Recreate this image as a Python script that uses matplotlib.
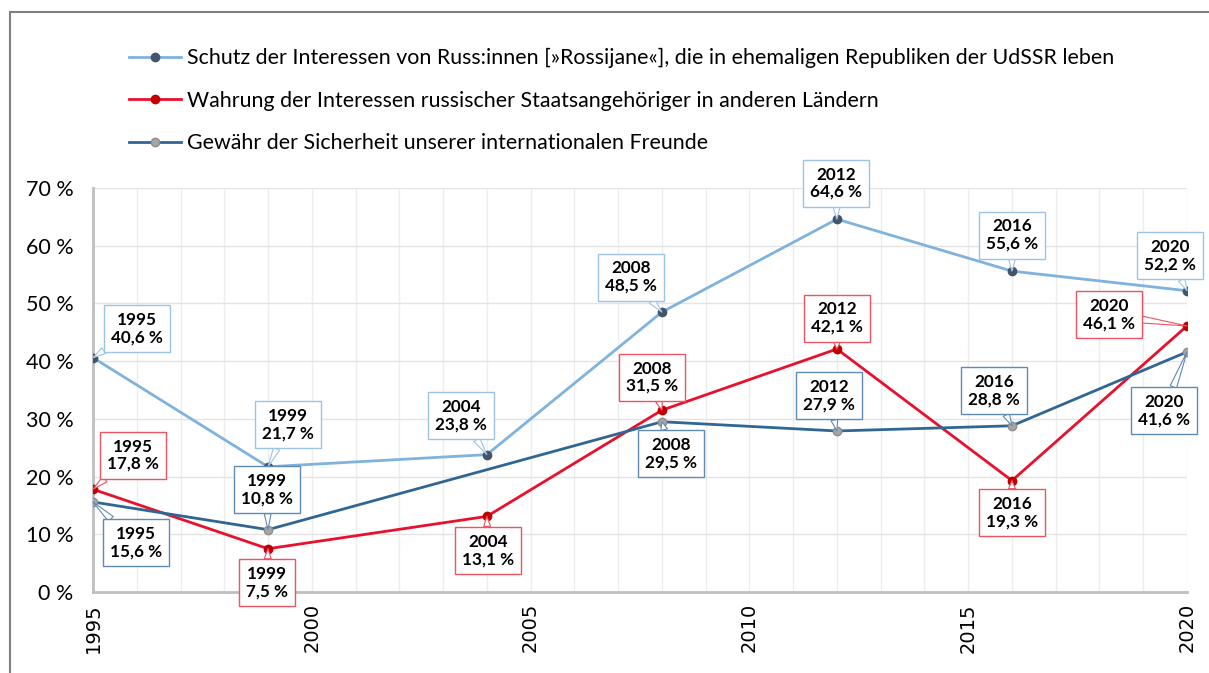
import numpy as np
import matplotlib
matplotlib.use("Agg")
import matplotlib.pyplot as plt
from matplotlib.patches import Rectangle

years = [1995, 1999, 2004, 2008, 2012, 2016, 2020]
schutz = [40.6, 21.7, 23.8, 48.5, 64.6, 55.6, 52.2]
wahrung = [17.8, 7.5, 13.1, 31.5, 42.1, 19.3, 46.1]
gewaehr = [15.6, 10.8, np.nan, 29.5, 27.9, 28.8, 41.6]

labels = [
    "Schutz der Interessen von Russ:innen [»Rossijane«], die in ehemaligen Republiken der UdSSR leben",
    "Wahrung der Interessen russischer Staatsangehöriger in anderen Ländern",
    "Gewähr der Sicherheit unserer internationalen Freunde",
]

xticks = [1995, 2000, 2005, 2010, 2015, 2020]
yticks = [0, 10, 20, 30, 40, 50, 60, 70]

# label box offsets in pixels (dx right, dy down) relative to point
off_s = [(44, -29), (20, -42), (-26, -39), (-31, -35), (-1, -36), (0, -36), (-17, -35)]
off_w = [(40, -34), (-1, 34), (1, 34), (-10, -33), (0, -31), (0, 32), (-78, -11)]
off_g = [(43, 41), (-1, -40), None, (9, 32), (-8, -35), (-18, -35), (-23, 59)]

plt.rcParams['font.family'] = ['Lato', 'DejaVu Sans']

W, H = 1209, 673
fig = plt.figure(figsize=(W / 100, H / 100), dpi=100)
ax = fig.add_axes([93 / W, 1 - 592 / H, (1187 - 93) / W, (592 - 188) / H])

series = [
    (schutz, '#7FB2DD', '#44546A', '#44546A', '#9DC3E6', off_s),
    (wahrung, '#E8112D', '#C00000', '#C00000', '#EE5364', off_w),
    (gewaehr, '#2F6693', '#A6A6A6', '#8C8C8C', '#5E8AB4', off_g),
]

handles = []
for (vals, lc, mfc, mec, bc, offs), lab in zip(series, labels):
    x = np.array(years, dtype=float)
    y = np.array(vals, dtype=float)
    m = ~np.isnan(y)
    h, = ax.plot(x[m], y[m], color=lc, lw=2.0, marker='o', ms=6,
                 mfc=mfc, mec=mec, mew=1.0, zorder=3, label=lab)
    handles.append(h)
    for xi, yi, off in zip(x, y, offs):
        if np.isnan(yi) or off is None:
            continue
        txt = f"{int(xi)}\n{yi:.1f} %".replace('.', ',')
        ax.annotate(txt, xy=(xi, yi), xytext=(off[0] * 0.72, -off[1] * 0.72),
                    textcoords='offset points', ha='center', va='center',
                    fontsize=12.3, fontweight='bold', color='black',
                    linespacing=1.1,
                    bbox=dict(boxstyle='square,pad=0.4', fc='white', ec=bc, lw=1.0),
                    arrowprops=dict(arrowstyle='wedge,tail_width=0.4,shrink_factor=0.5',
                                    fc='white', ec=bc, lw=0.8, shrinkA=0, shrinkB=0),
                    zorder=5, annotation_clip=False)

ax.set_xlim(1995, 2020)
ax.set_ylim(0, 70)
ax.set_xticks(xticks)
ax.set_xticks(range(1995, 2021), minor=True)
ax.set_yticks(yticks)
ax.set_yticklabels([f"{v} %" for v in yticks], fontsize=15.5)
ax.set_xticklabels([str(v) for v in xticks], rotation=90, fontsize=14,
                   family='DejaVu Sans', va='top', ha='center')
ax.tick_params(axis='both', which='both', length=0)
ax.tick_params(axis='y', pad=14)
ax.tick_params(axis='x', pad=8)
ax.grid(True, which='major', axis='y', color='#E4E4E4', lw=1.0, zorder=0)
ax.grid(True, which='both', axis='x', color='#EDEDED', lw=1.0, zorder=0)
for s in ['top', 'right']:
    ax.spines[s].set_visible(False)
for s in ['left', 'bottom']:
    ax.spines[s].set_color('#BFBFBF')
    ax.spines[s].set_linewidth(2.0)
ax.set_axisbelow(True)

fig.legend(handles=handles, labels=labels, loc='upper left',
           bbox_to_anchor=(129 / W, 1 - 48 / H), frameon=False, fontsize=15.4,
           handlelength=2.45, handletextpad=0.25, labelspacing=1.05,
           borderpad=0, borderaxespad=0)

fig.patches.append(Rectangle((10 / W, -0.05), 1.2, 1 - 12 / H + 0.05,
                             transform=fig.transFigure, fill=False,
                             ec='#7F7F7F', lw=1.5))

fig.savefig('out.png', dpi=100)
